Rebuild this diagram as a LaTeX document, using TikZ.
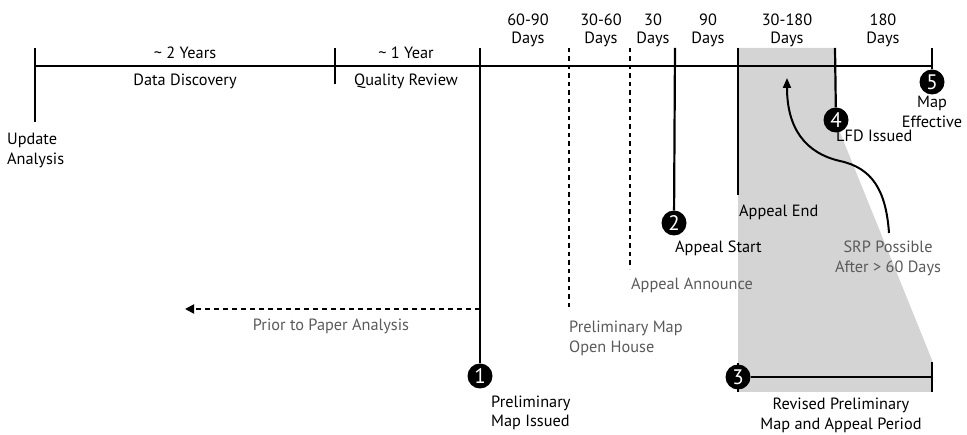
\documentclass[tikz,border=0pt]{standalone}
\usepackage{fontspec}
\setmainfont{PT Sans}
\usetikzlibrary{arrows.meta}
\definecolor{regionfill}{HTML}{D4D4D4}
\definecolor{graytxt}{HTML}{5A5A5A}
\begin{document}
\begin{tikzpicture}[x=1pt,y=-1pt,
  lbl/.style={inner sep=0pt, anchor=base, font=\fontsize{16.3}{19}\selectfont},
  lblL/.style={lbl, anchor=base west},
  glbl/.style={lbl, text=graytxt},
  glblL/.style={lblL, text=graytxt},
  tl/.style={line width=2.2pt},
  dots/.style={line width=2.4pt, dash pattern=on 4.5pt off 4pt},
  num/.style={circle, fill=black, minimum size=25pt, inner sep=0pt, text=white, font=\fontsize{21}{21}\selectfont}
]
\useasboundingbox (0,0) rectangle (967,435);
% shaded appeal region
\fill[regionfill] (738,48) -- (835,48) -- (835,120) -- (932,360) -- (932,392) -- (738,392) -- cycle;

% main timeline
\coordinate (start) at (35,66);
\coordinate (end) at (932,66);
\draw[tl] (start) -- (end);

% tick tops
\coordinate (tA) at (35,48);   \coordinate (bA) at (35,122);
\coordinate (tB) at (335,48);  \coordinate (bB) at (335,84);
\coordinate (tC) at (480,48);
\coordinate (tD) at (569,48);  \coordinate (bD) at (569,308);
\coordinate (tE) at (630,48);  \coordinate (bE) at (630,269);
\coordinate (tF) at (675,48);
\coordinate (tG) at (738,48);  \coordinate (bG) at (738,195);
\coordinate (tH) at (835,48);
\coordinate (tI) at (932,48);

% numbered circles
\node[num] (n1) at (480,376) {1};
\node[num] (n2) at (674,223) {2};
\node[num] (n4) at (836,120) {4};
\node[num] (n5) at (932,82) {5};

\draw[tl] (tA) -- (bA);
\draw[tl] (tB) -- (bB);
\draw[tl] (tC) -- (n1);
\draw[dots] (tD) -- (bD);
\draw[dots] (tE) -- (bE);
\draw[tl] (tF) -- (n2);
\draw[tl] (tG) -- (bG);
\draw[tl] (tH) -- (n4);
\draw[tl] (tI) -- (n5);

% bottom period bar
\coordinate (p3t) at (738,363); \coordinate (p3b) at (738,392);
\coordinate (pEt) at (932,362); \coordinate (pEb) at (932,392);
\coordinate (pE) at (932,377);
\draw[tl] (p3t) -- (p3b);
\draw[tl] (pEt) -- (pEb);
\node[num] (n3) at (738,377) {3};
\draw[tl] (n3) -- (pE);

% prior to paper analysis arrow
\coordinate (pa1) at (480,309);
\coordinate (pa2) at (185,309);
\draw[line width=1.8pt, dash pattern=on 5pt off 4pt, -{Triangle[length=9pt,width=9pt]}] (pa1) -- (pa2);

% SRP curved arrow
\coordinate (srp0) at (889,233);
\coordinate (srp1) at (787,78);
\draw[line width=2pt, -{Triangle[length=10pt,width=8pt]}] (srp0) .. controls (886,190) and (872,168) .. (840,161) .. controls (805,153) and (787,128) .. (srp1);

% top labels
\node[lbl] (y2) at (185,59) {\textasciitilde{} 2 Years};
\node[lbl] (dd) at (185,86) {Data Discovery};
\node[lbl] (y1) at (406,59) {\textasciitilde{} 1 Year};
\node[lbl] (qr) at (406,86) {Quality Review};
\node[lblL] (ua1) at (7,145) {Update};
\node[lblL] (ua2) at (7,165) {Analysis};

\node[lbl] (d1a) at (528,26) {60-90};
\node[lbl] (d1b) at (528,44) {Days};
\node[lbl] (d2a) at (601,26) {30-60};
\node[lbl] (d2b) at (601,44) {Days};
\node[lbl] (d3a) at (653,26) {30};
\node[lbl] (d3b) at (653,44) {Days};
\node[lbl] (d4a) at (708,26) {90};
\node[lbl] (d4b) at (708,44) {Days};
\node[lbl] (d5a) at (787,26) {30-180};
\node[lbl] (d5b) at (787,44) {Days};
\node[lbl] (d6a) at (883,26) {180};
\node[lbl] (d6b) at (883,44) {Days};

% event labels
\node[lbl] (me1) at (932,108) {Map};
\node[lbl] (me2) at (932,128) {Effective};
\node[lblL] (lfd) at (836,142) {LFD Issued};
\node[lblL] (ae) at (739,217) {Appeal End};
\node[lblL] (as) at (675,253) {Appeal Start};
\node[glblL] (aa) at (631,290) {Appeal Announce};
\node[glbl] (srpa) at (888,253) {SRP Possible};
\node[glbl] (srpb) at (888,273) {After > 60 Days};
\node[glblL] (oh1) at (569,333) {Preliminary Map};
\node[glblL] (oh2) at (569,353) {Open House};
\node[glbl] (ppa) at (331,331) {Prior to Paper Analysis};
\node[lblL] (pm1) at (491,408) {Preliminary};
\node[lblL] (pm2) at (491,427) {Map Issued};
\node[lbl] (rp1) at (841,410) {Revised Preliminary};
\node[lbl] (rp2) at (841,430) {Map and Appeal Period};
\end{tikzpicture}
\end{document}
